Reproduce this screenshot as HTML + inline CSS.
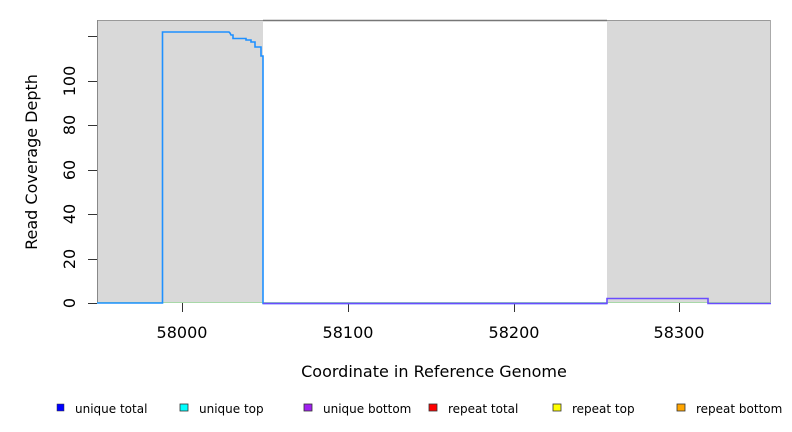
<!DOCTYPE html>
<html><head><meta charset="utf-8"><style>
html,body{margin:0;padding:0;background:#fff}
svg{display:block}
text{font-family:"DejaVu Sans","Liberation Sans",sans-serif;fill:#000}
</style></head><body>
<svg width="792" height="432" xmlns="http://www.w3.org/2000/svg">
<rect x="97" y="20" width="166" height="283" fill="#d9d9d9"/>
<rect x="607" y="20" width="164" height="283" fill="#d9d9d9"/>
<line x1="97" y1="20.5" x2="771" y2="20.5" stroke="#999" stroke-width="1"/>
<line x1="263" y1="20.5" x2="607" y2="20.5" stroke="#777" stroke-width="1.5"/>
<line x1="97.5" y1="20" x2="97.5" y2="303" stroke="#888"/>
<line x1="770.5" y1="20" x2="770.5" y2="303" stroke="#aaa"/>
<!-- y ticks -->
<g stroke="#333" stroke-width="1">
<line x1="88" y1="303.5" x2="97" y2="303.5"/>
<line x1="88" y1="259.5" x2="97" y2="259.5"/>
<line x1="88" y1="214.5" x2="97" y2="214.5"/>
<line x1="88" y1="170.5" x2="97" y2="170.5"/>
<line x1="88" y1="125.5" x2="97" y2="125.5"/>
<line x1="88" y1="81.5" x2="97" y2="81.5"/>
<line x1="88" y1="36.5" x2="97" y2="36.5"/>
<line x1="182.5" y1="303" x2="182.5" y2="312"/>
<line x1="348.5" y1="303" x2="348.5" y2="312"/>
<line x1="514.5" y1="303" x2="514.5" y2="312"/>
<line x1="679.5" y1="303" x2="679.5" y2="312"/>
</g>
<g font-size="16" text-anchor="middle">
<text transform="translate(75,303) rotate(-90)">0</text>
<text transform="translate(75,259) rotate(-90)">20</text>
<text transform="translate(75,214) rotate(-90)">40</text>
<text transform="translate(75,170) rotate(-90)">60</text>
<text transform="translate(75,125) rotate(-90)">80</text>
<text transform="translate(75,81) rotate(-90)">100</text>
<text x="182" y="338">58000</text>
<text x="348" y="338">58100</text>
<text x="514" y="338">58200</text>
<text x="679" y="338">58300</text>
<text x="434" y="377">Coordinate in Reference Genome</text>
<text transform="translate(37,162) rotate(-90)">Read Coverage Depth</text>
</g>
<line x1="97" y1="302.5" x2="771" y2="302.5" stroke="#a8d8a8" stroke-width="1"/>
<polyline fill="none" stroke="#1e90ff" stroke-width="1.6" points="97,303 162.5,303 162.5,32 229,32 230,33 231,35 233,35 233,38.5 246,38.5 246,40 251,40 251,42 255,42 255,47 261,47 261,56 263,56 263,303.5 607,303.5"/>
<polyline fill="none" stroke="#6a4cff" stroke-width="1.6" points="263,303.5 607,303.5 607,298.5 708,298.5 708,303.5 771,303.5"/>
<g font-size="12">
<rect x="57" y="404" width="7" height="7" fill="#0000ff" stroke="#333" stroke-width="0.5"/><text x="75" y="413">unique total</text>
<rect x="180" y="404" width="8" height="7" fill="#00ffff" stroke="#333" stroke-width="0.8"/><text x="199" y="413">unique top</text>
<rect x="304" y="404" width="8" height="7" fill="#a020f0" stroke="#333" stroke-width="0.8"/><text x="323" y="413">unique bottom</text>
<rect x="429" y="404" width="8" height="7" fill="#ff0000" stroke="#333" stroke-width="0.8"/><text x="448" y="413">repeat total</text>
<rect x="553" y="404" width="8" height="7" fill="#ffff00" stroke="#333" stroke-width="0.8"/><text x="572" y="413">repeat top</text>
<rect x="677" y="404" width="8" height="7" fill="#ffa500" stroke="#333" stroke-width="0.8"/><text x="696" y="413">repeat bottom</text>
</g>
</svg>
</body></html>
